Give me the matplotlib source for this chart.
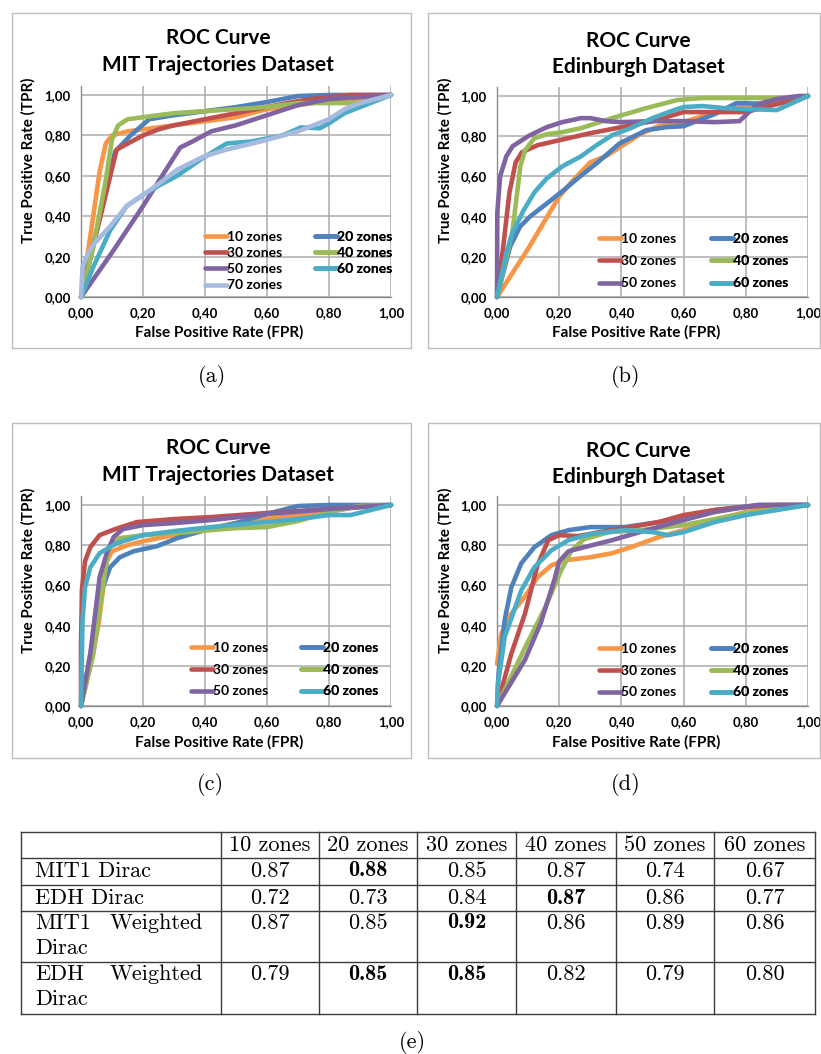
import matplotlib
matplotlib.use("Agg")
import matplotlib.pyplot as plt
import matplotlib.transforms as mtransforms
from matplotlib.patches import Rectangle

W, H = 821, 1054

# series data as (FPR, TPR) pairs
zones = ['10 zones', '20 zones', '30 zones', '40 zones', '50 zones', '60 zones', '70 zones']
colores = ['#F79646', '#4F81BD', '#C0504D', '#9BBB59', '#8064A2', '#4BACC6', '#A7BADF']

mit_a = {
    '10 zones': [(0, 0), (0.03, 0.30), (0.06, 0.62), (0.08, 0.76), (0.1, 0.80), (0.15, 0.82), (0.2, 0.83), (0.3, 0.85), (0.4, 0.87), (0.5, 0.89), (0.6, 0.93), (0.7, 0.95), (0.8, 0.97), (0.9, 0.98), (1, 1)],
    '20 zones': [(0, 0), (0.11, 0.72), (0.16, 0.80), (0.22, 0.88), (0.3, 0.90), (0.4, 0.92), (0.5, 0.94), (0.6, 0.965), (0.7, 0.995), (0.8, 1.0), (0.9, 1.0), (1, 1)],
    '30 zones': [(0, 0), (0.115, 0.73), (0.2, 0.80), (0.25, 0.83), (0.3, 0.85), (0.4, 0.88), (0.5, 0.91), (0.6, 0.94), (0.7, 0.97), (0.8, 0.99), (0.87, 1.0), (1, 1)],
    '40 zones': [(0, 0), (0.04, 0.25), (0.08, 0.58), (0.10, 0.78), (0.12, 0.85), (0.15, 0.88), (0.2, 0.89), (0.3, 0.91), (0.4, 0.92), (0.5, 0.93), (0.6, 0.94), (0.7, 0.96), (0.8, 0.96), (0.9, 0.96), (1, 1)],
    '50 zones': [(0, 0), (0.1, 0.22), (0.2, 0.45), (0.27, 0.62), (0.32, 0.74), (0.36, 0.77), (0.42, 0.82), (0.5, 0.85), (0.6, 0.90), (0.7, 0.95), (0.8, 0.98), (0.9, 0.99), (1, 1)],
    '60 zones': [(0, 0), (0.04, 0.15), (0.094, 0.33), (0.147, 0.45), (0.2, 0.505), (0.255, 0.555), (0.31, 0.60), (0.395, 0.69), (0.47, 0.76), (0.55, 0.77), (0.65, 0.80), (0.71, 0.84), (0.77, 0.835), (0.8, 0.86), (0.85, 0.91), (0.9, 0.94), (1, 1)],
    '70 zones': [(0, 0), (0.005, 0.15), (0.018, 0.20), (0.04, 0.26), (0.094, 0.35), (0.147, 0.45), (0.2, 0.505), (0.255, 0.565), (0.31, 0.63), (0.395, 0.695), (0.47, 0.73), (0.58, 0.77), (0.7, 0.82), (0.8, 0.88), (0.85, 0.93), (0.9, 0.96), (1, 1)],
}

edh_b = {
    '10 zones': [(0, 0), (0.1, 0.24), (0.15, 0.37), (0.2, 0.50), (0.25, 0.59), (0.3, 0.67), (0.35, 0.70), (0.4, 0.75), (0.46, 0.81), (0.52, 0.85), (0.6, 0.87), (0.7, 0.92), (0.8, 0.95), (0.9, 0.97), (1, 1)],
    '20 zones': [(0, 0), (0.042, 0.25), (0.074, 0.35), (0.106, 0.40), (0.16, 0.465), (0.213, 0.53), (0.267, 0.60), (0.32, 0.665), (0.395, 0.765), (0.48, 0.83), (0.545, 0.845), (0.6, 0.85), (0.65, 0.88), (0.7, 0.91), (0.77, 0.965), (0.9, 0.96), (1, 1)],
    '30 zones': [(0, 0), (0.02, 0.25), (0.04, 0.52), (0.06, 0.67), (0.08, 0.72), (0.13, 0.755), (0.2, 0.78), (0.3, 0.815), (0.4, 0.845), (0.5, 0.875), (0.6, 0.92), (0.7, 0.92), (0.8, 0.92), (0.9, 0.96), (1, 1)],
    '40 zones': [(0, 0), (0.05, 0.33), (0.075, 0.65), (0.09, 0.73), (0.12, 0.79), (0.16, 0.81), (0.21, 0.82), (0.27, 0.84), (0.37, 0.89), (0.48, 0.94), (0.58, 0.98), (0.66, 0.99), (0.8, 0.99), (0.9, 0.99), (1, 1)],
    '50 zones': [(0, 0), (0.001, 0.42), (0.01, 0.60), (0.03, 0.70), (0.05, 0.75), (0.1, 0.80), (0.16, 0.845), (0.21, 0.87), (0.27, 0.89), (0.3, 0.89), (0.35, 0.875), (0.4, 0.87), (0.5, 0.875), (0.6, 0.875), (0.7, 0.87), (0.78, 0.875), (0.81, 0.92), (0.84, 0.96), (0.9, 0.985), (0.97, 1.0), (1, 1)],
    '60 zones': [(0, 0), (0.03, 0.22), (0.05, 0.32), (0.085, 0.43), (0.12, 0.52), (0.16, 0.59), (0.21, 0.65), (0.27, 0.70), (0.32, 0.755), (0.37, 0.805), (0.43, 0.84), (0.5, 0.89), (0.57, 0.93), (0.6, 0.945), (0.66, 0.95), (0.73, 0.94), (0.8, 0.935), (0.9, 0.93), (1, 1)],
}

mit_c = {
    '10 zones': [(0, 0), (0.03, 0.20), (0.056, 0.40), (0.083, 0.72), (0.1, 0.77), (0.15, 0.80), (0.2, 0.82), (0.3, 0.85), (0.4, 0.88), (0.5, 0.91), (0.6, 0.93), (0.7, 0.95), (0.8, 0.97), (0.9, 0.99), (1, 1)],
    '20 zones': [(0, 0), (0.04, 0.34), (0.07, 0.59), (0.094, 0.69), (0.125, 0.74), (0.17, 0.77), (0.2, 0.78), (0.245, 0.795), (0.31, 0.835), (0.4, 0.875), (0.5, 0.91), (0.61, 0.96), (0.7, 0.995), (0.8, 1.0), (0.9, 1.0), (1, 1)],
    '30 zones': [(0, 0), (0.0, 0.30), (0.003, 0.58), (0.013, 0.72), (0.03, 0.79), (0.06, 0.85), (0.11, 0.88), (0.18, 0.915), (0.3, 0.93), (0.42, 0.94), (0.6, 0.96), (0.8, 0.98), (1, 1)],
    '40 zones': [(0, 0), (0.04, 0.26), (0.07, 0.59), (0.09, 0.79), (0.125, 0.835), (0.2, 0.85), (0.3, 0.86), (0.42, 0.875), (0.5, 0.885), (0.6, 0.89), (0.7, 0.92), (0.8, 0.965), (0.9, 0.995), (1, 1)],
    '50 zones': [(0, 0), (0.03, 0.26), (0.06, 0.64), (0.083, 0.76), (0.105, 0.84), (0.135, 0.88), (0.2, 0.90), (0.3, 0.91), (0.42, 0.925), (0.6, 0.955), (0.8, 0.98), (1, 1)],
    '60 zones': [(0, 0), (0.005, 0.43), (0.013, 0.59), (0.03, 0.69), (0.06, 0.76), (0.115, 0.81), (0.2, 0.85), (0.3, 0.87), (0.42, 0.89), (0.52, 0.905), (0.6, 0.915), (0.7, 0.93), (0.8, 0.95), (0.87, 0.95), (1, 1)],
}

edh_d = {
    '10 zones': [(0, 0.21), (0.014, 0.36), (0.046, 0.46), (0.09, 0.545), (0.13, 0.64), (0.175, 0.70), (0.22, 0.725), (0.3, 0.74), (0.37, 0.76), (0.43, 0.79), (0.52, 0.84), (0.6, 0.875), (0.7, 0.925), (0.8, 0.965), (0.9, 0.985), (1, 1)],
    '20 zones': [(0, 0), (0.005, 0.16), (0.025, 0.43), (0.046, 0.59), (0.078, 0.71), (0.12, 0.79), (0.175, 0.85), (0.23, 0.875), (0.3, 0.89), (0.41, 0.89), (0.52, 0.915), (0.6, 0.94), (0.7, 0.975), (0.84, 1.0), (1, 1)],
    '30 zones': [(0, 0), (0.046, 0.26), (0.09, 0.46), (0.13, 0.70), (0.165, 0.825), (0.2, 0.85), (0.26, 0.845), (0.33, 0.865), (0.41, 0.885), (0.52, 0.915), (0.6, 0.95), (0.7, 0.975), (0.8, 0.99), (0.9, 1.0), (1, 1)],
    '40 zones': [(0, 0), (0.09, 0.29), (0.155, 0.49), (0.205, 0.67), (0.24, 0.775), (0.28, 0.83), (0.36, 0.865), (0.46, 0.875), (0.6, 0.90), (0.8, 0.96), (1, 1)],
    '50 zones': [(0, 0), (0.09, 0.23), (0.14, 0.41), (0.185, 0.63), (0.2, 0.72), (0.23, 0.77), (0.28, 0.79), (0.37, 0.825), (0.47, 0.87), (0.6, 0.925), (0.7, 0.965), (0.84, 1.0), (1, 1)],
    '60 zones': [(0, 0), (0.003, 0.11), (0.025, 0.345), (0.078, 0.575), (0.12, 0.69), (0.175, 0.775), (0.23, 0.825), (0.3, 0.855), (0.41, 0.875), (0.5, 0.865), (0.55, 0.85), (0.6, 0.865), (0.7, 0.915), (0.8, 0.95), (0.9, 0.975), (1, 1)],
}

ticks = [0, 0.2, 0.4, 0.6, 0.8, 1.0]
tick_labels = ['0,00', '0,20', '0,40', '0,60', '0,80', '1,00']

# tabla (e)
col_headers = ['10 zones', '20 zones', '30 zones', '40 zones', '50 zones', '60 zones']
row_names = [['MIT1 Dirac'], ['EDH Dirac'], ['MIT1', 'Weighted', 'Dirac'], ['EDH', 'Weighted', 'Dirac']]
valores = [
    ['0.87', '0.88', '0.85', '0.87', '0.74', '0.67'],
    ['0.72', '0.73', '0.84', '0.87', '0.86', '0.77'],
    ['0.87', '0.85', '0.92', '0.86', '0.89', '0.86'],
    ['0.79', '0.85', '0.85', '0.82', '0.79', '0.80'],
]
negritas = [[1], [3], [2], [1, 2]]

fig = plt.figure(figsize=(W / 100, H / 100), dpi=100)
# coordenadas en pixeles, origen arriba a la izquierda
T = mtransforms.Affine2D().scale(1 / W, -1 / H).translate(0, 1) + fig.transFigure

XL = 'Lato'
LINEA = '#ABABAB'
YTOP = 1.045  # the plot area goes a bit above 1,00

paneles = [
    dict(datos=mit_a, titulo='MIT Trajectories Dataset', box=(12, 13, 411, 348), ax=(81, 95, 391, 297),
         tx=218, ty=(38, 65), yl=(28, 160), xl=(219, 332), leg=(205, 315, 237, 16.4), cap=('(a)', 212, 377)),
    dict(datos=edh_b, titulo='Edinburgh Dataset', box=(428, 13, 820, 348), ax=(497, 96, 808, 297),
         tx=638, ty=(41, 67), yl=(445, 160), xl=(636, 332), leg=(599, 711, 239, 22.5), cap=('(b)', 626, 377)),
    dict(datos=mit_c, titulo='MIT Trajectories Dataset', box=(12, 423, 411, 758), ax=(81, 505, 391, 706),
         tx=218, ty=(448, 475), yl=(28, 570), xl=(219, 742), leg=(191, 301, 648, 22.0), cap=('(c)', 210, 785)),
    dict(datos=edh_d, titulo='Edinburgh Dataset', box=(428, 423, 820, 758), ax=(497, 505, 808, 706),
         tx=638, ty=(451, 477), yl=(445, 570), xl=(636, 742), leg=(599, 711, 649, 22.0), cap=('(d)', 626, 785)),
]

for p in paneles:
    b = p['box']
    fig.add_artist(Rectangle((b[0], b[1]), b[2] - b[0], b[3] - b[1], transform=T,
                             fill=False, edgecolor='#BDBDBD', lw=1.0))
    x0, y1pos, x1, y0pos = p['ax']  # y1pos = pixel row of 1,00 ; y0pos = pixel row of 0,00
    alto = (y0pos - y1pos) * YTOP
    ax = fig.add_axes([x0 / W, 1 - y0pos / H, (x1 - x0) / W, alto / H])
    ax.set_xlim(0, 1)
    ax.set_ylim(0, YTOP)
    ax.set_xticks(ticks)
    ax.set_xticklabels(tick_labels)
    ax.set_yticks(ticks)
    ax.set_yticklabels(tick_labels)
    for lab in ax.get_xticklabels() + ax.get_yticklabels():
        lab.set_fontfamily(XL)
        lab.set_fontweight('bold')
        lab.set_fontsize(9.5)
    ax.tick_params(length=0, pad=7.5)
    ax.grid(True, color=LINEA, lw=1.1)
    ax.set_axisbelow(True)
    for s in ['top', 'right']:
        ax.spines[s].set_visible(False)
    for s in ['left', 'bottom']:
        ax.spines[s].set_color('#8C8C8C')
        ax.spines[s].set_linewidth(1.0)
    ax.set_facecolor('none')

    lineas = []
    for nombre, color in zip(zones, colores):
        if nombre not in p['datos']:
            continue
        pts = p['datos'][nombre]
        xs = [q[0] for q in pts]
        ys = [q[1] for q in pts]
        ln, = ax.plot(xs, ys, color=color, lw=3.3, solid_joinstyle='round',
                      solid_capstyle='round', clip_on=False, label=nombre, zorder=3)
        lineas.append(ln)

    lx1, lx2, ly, dy = p['leg']
    fs = 10.0
    fpx = fs * 100 / 72
    text_h = fpx * 0.88
    sp = (dy - text_h) / fpx
    for k, lx in enumerate([lx1, lx2]):
        hs = lineas[k::2]
        lg = ax.legend(handles=hs, loc='upper left', bbox_to_anchor=(lx, ly - text_h / 2),
                       bbox_transform=T, frameon=False, borderpad=0, borderaxespad=0,
                       handlelength=22 / fpx, handletextpad=0.0, labelspacing=sp,
                       prop={'family': XL, 'weight': 'bold', 'size': fs})
        ax.add_artist(lg)

    fig.text(p['tx'], p['ty'][0], 'ROC Curve', transform=T, ha='center', va='center',
             family=XL, weight='bold', fontsize=15)
    fig.text(p['tx'], p['ty'][1], p['titulo'], transform=T, ha='center', va='center',
             family=XL, weight='bold', fontsize=15)
    fig.text(p['yl'][0], p['yl'][1], 'True Positive Rate (TPR)', transform=T, ha='center',
             va='center', rotation=90, family=XL, weight='bold', fontsize=11)
    fig.text(p['xl'][0], p['xl'][1], 'False Positive Rate (FPR)', transform=T, ha='center',
             va='center', family=XL, weight='bold', fontsize=11)
    c = p['cap']
    fig.text(c[1], c[2], c[0], transform=T, ha='center', va='center', family='cmr10', fontsize=16)

# tabla
cols = [21, 221, 319, 417, 516, 616, 714, 815]
filas = [832, 858, 885, 911, 962, 1014]
tab = fig.add_axes([0, 0, 1, 1])
tab.set_xlim(0, W)
tab.set_ylim(H, 0)
tab.axis('off')
tab.patch.set_alpha(0)
for yy in filas:
    tab.plot([cols[0], cols[-1]], [yy, yy], color='#3C3C3C', lw=1.0)
for xx in cols:
    tab.plot([xx, xx], [filas[0], filas[-1]], color='#3C3C3C', lw=1.0)

TS = 16
for j, h in enumerate(col_headers):
    tab.text((cols[j + 1] + cols[j + 2]) / 2, (filas[0] + filas[1]) / 2, h, ha='center', va='center',
             family='cmr10', fontsize=TS)
for r, (nombre, vals) in enumerate(zip(row_names, valores)):
    ytop = filas[r + 1]
    y1 = ytop + 13 if len(nombre) == 1 else ytop + 12
    tab.text(35, y1, nombre[0], ha='left', va='center', family='cmr10', fontsize=TS)
    if len(nombre) > 1:
        tab.text(203, y1, nombre[1], ha='right', va='center', family='cmr10', fontsize=TS)
        tab.text(35, y1 + 25.5, nombre[2], ha='left', va='center', family='cmr10', fontsize=TS)
    for j, v in enumerate(vals):
        fam = 'cmb10' if j in negritas[r] else 'cmr10'
        tab.text((cols[j + 1] + cols[j + 2]) / 2, y1, v, ha='center', va='center',
                 family=fam, fontsize=TS)

fig.text(412, 1043, '(e)', transform=T, ha='center', va='center', family='cmr10', fontsize=16)

fig.savefig('out.png', dpi=100)
